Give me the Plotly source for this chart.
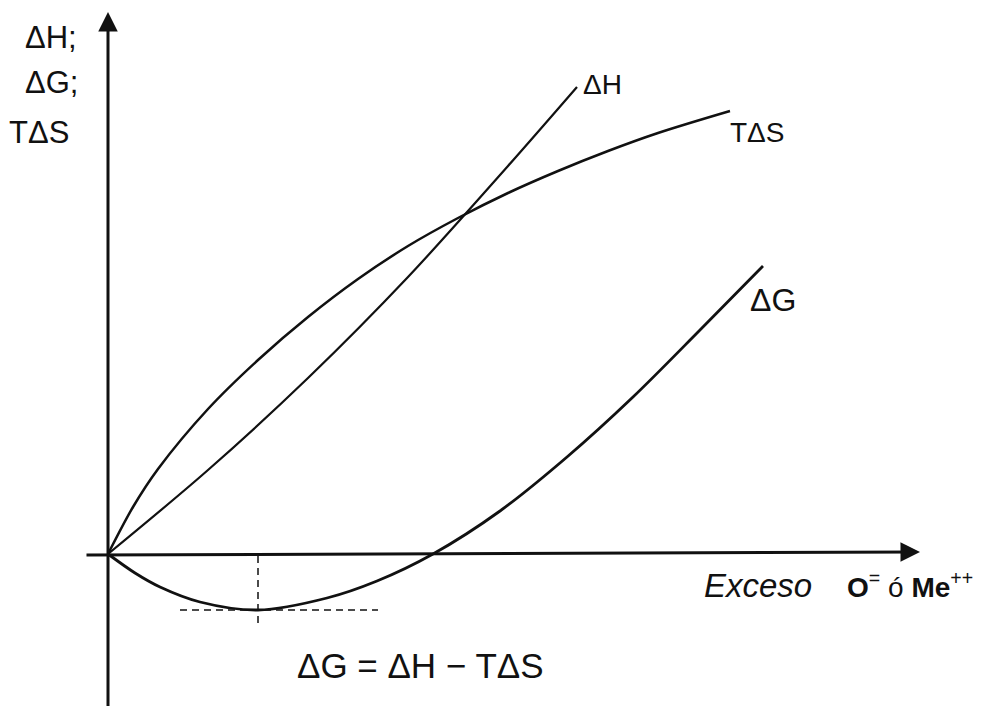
import plotly.graph_objects as go

# Schematic units: x = excess of O= or Me++ (arbitrary), y = energy (arbitrary)
dH_x = [0, 1.0, 2.0, 3.0, 4.0, 4.69]
dH_y = [0, 0.84, 1.76, 2.77, 3.88, 4.67]

TdS_x = [0, 0.25, 0.5, 1.0, 1.5, 2.0, 2.5, 3.0, 3.5, 4.0, 4.5, 5.0, 5.5, 6.22]
TdS_y = [0, 0.47, 0.85, 1.45, 1.94, 2.37, 2.75, 3.08, 3.36, 3.61, 3.83, 4.03, 4.21, 4.43]

dG_x = [0, 0.27, 0.52, 0.92, 1.50, 2.19, 2.69, 3.25, 3.92, 4.59, 5.25, 5.92, 6.55]
dG_y = [0, -0.19, -0.33, -0.48, -0.56, -0.44, -0.27, 0.0, 0.43, 0.97, 1.57, 2.24, 2.88]

y_axis_labels = ["ΔH;", "ΔG;", "TΔS"]
curve_labels = ["ΔH", "TΔS", "ΔG"]
x_axis_label = "Exceso"
x_axis_species = "<b>O</b><sup>=</sup> ó <b>Me</b><sup>++</sup>"
equation = "ΔG = ΔH − TΔS"

INK = "#111111"
FONT = "Liberation Sans, Arial, DejaVu Sans, sans-serif"

fig = go.Figure()
fig.add_trace(go.Scatter(x=dH_x, y=dH_y, mode="lines", line=dict(color=INK, width=2.2, shape="spline", smoothing=0.9)))
fig.add_trace(go.Scatter(x=TdS_x, y=TdS_y, mode="lines", line=dict(color=INK, width=2.5, shape="spline", smoothing=0.9)))
fig.add_trace(go.Scatter(x=dG_x, y=dG_y, mode="lines", line=dict(color=INK, width=2.8, shape="spline", smoothing=0.9)))

# minimum of ΔG, marked with dashed guides
i_min = min(range(len(dG_y)), key=lambda i: dG_y[i])
gx, gy = dG_x[i_min], dG_y[i_min]
fig.add_trace(go.Scatter(x=[gx - 0.78, gx + 1.20], y=[gy, gy], mode="lines",
                         line=dict(color=INK, width=1.5, dash="7px,5px")))
fig.add_trace(go.Scatter(x=[gx, gx], y=[-0.02, gy - 0.17], mode="lines",
                         line=dict(color=INK, width=1.5, dash="7px,5px")))

ann = []
# axes with arrowheads
ann.append(dict(x=0, y=5.42, ax=0, ay=-1.55, xref="x", yref="y", axref="x", ayref="y",
                text="", showarrow=True, arrowhead=2, arrowsize=1.3, arrowwidth=3, arrowcolor=INK))
ann.append(dict(x=8.12, y=0.02, ax=-0.23, ay=-0.01, xref="x", yref="y", axref="x", ayref="y",
                text="", showarrow=True, arrowhead=2, arrowsize=1.3, arrowwidth=3, arrowcolor=INK))

# y axis label (stacked)
for lab, (x, y) in zip(y_axis_labels, [(-0.57, 5.17), (-0.57, 4.72), (-0.69, 4.22)]):
    ann.append(dict(x=x, y=y, xref="x", yref="y", text=lab, showarrow=False,
                    font=dict(family=FONT, size=31, color=INK)))
# curve labels
for lab, (x, y), s in zip(curve_labels, [(4.94, 4.70), (6.49, 4.22), (6.65, 2.54)], [28, 28, 32]):
    ann.append(dict(x=x, y=y, xref="x", yref="y", text=lab, showarrow=False,
                    font=dict(family=FONT, size=s, color=INK)))
# x axis label
ann.append(dict(x=5.94, y=-0.31, xref="x", yref="y", xanchor="left", text="<i>" + x_axis_label + "</i>",
                showarrow=False, font=dict(family=FONT, size=33, color=INK)))
ann.append(dict(x=7.37, y=-0.31, xref="x", yref="y", xanchor="left", text=x_axis_species,
                showarrow=False, font=dict(family=FONT, size=28, color=INK)))
# equation
ann.append(dict(x=3.12, y=-1.11, xref="x", yref="y", text=equation, showarrow=False,
                font=dict(family=FONT, size=35, color=INK)))

fig.update_layout(
    width=981, height=706,
    margin=dict(l=0, r=0, t=0, b=0),
    paper_bgcolor="white", plot_bgcolor="white",
    showlegend=False,
    xaxis=dict(range=[-1.08, 8.73], visible=False, fixedrange=True),
    yaxis=dict(range=[-1.52, 5.54], visible=False, fixedrange=True),
    annotations=ann,
)

fig.write_html("out.html", config={"displayModeBar": False},
               post_script="document.body.style.margin='0';document.body.style.overflow='hidden';")
